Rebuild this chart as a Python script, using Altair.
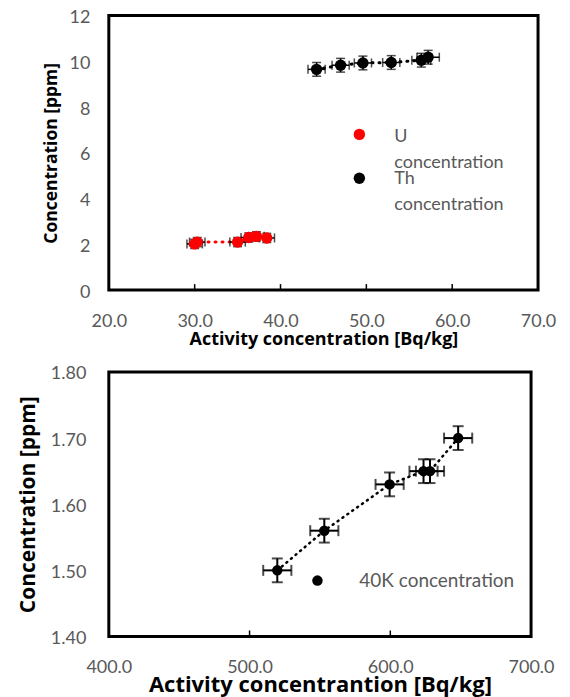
import altair as alt
import pandas as pd

# ---------------- data ----------------
u_x = [30.0, 30.3, 35.0, 36.3, 37.2, 38.4]
u_y = [2.02, 2.10, 2.10, 2.30, 2.35, 2.28]
u_xerr = [0.9, 0.9, 0.9, 0.9, 0.9, 0.9]
u_yerr = [0.2, 0.2, 0.2, 0.2, 0.2, 0.2]

th_x = [44.2, 47.0, 49.6, 52.9, 56.4, 57.2]
th_y = [9.65, 9.83, 9.93, 9.95, 10.05, 10.18]
th_xerr = [1.0, 1.0, 1.0, 1.0, 1.1, 1.3]
th_yerr = [0.3, 0.3, 0.3, 0.3, 0.3, 0.3]

k_x = [519.7, 553.1, 599.5, 623.6, 628.2, 648.2]
k_y = [1.50, 1.56, 1.63, 1.65, 1.65, 1.70]
k_xerr = [10.0, 10.0, 10.0, 10.0, 10.0, 10.0]
k_yerr = [0.018, 0.018, 0.018, 0.018, 0.018, 0.018]

series_names = ["U concentration", "Th concentration"]
series_colors = ["#ff0000", "#000000"]
k_name = "40K concentration"

top_x_ticks = [20, 30, 40, 50, 60, 70]
top_y_ticks = [0, 2, 4, 6, 8, 10, 12]
top_inner_ticks = [30, 40, 50, 60]
bot_x_ticks = [400, 500, 600, 700]
bot_y_ticks = [1.4, 1.5, 1.6, 1.7, 1.8]
bot_inner_ticks = [500, 600]

FONT = "Lato"
TFONT = "Open Sans"
LABEL_COLOR = "#595959"

# ---------------- tables ----------------
top_df = pd.concat([
    pd.DataFrame({"x": u_x, "y": u_y, "xerr": u_xerr, "yerr": u_yerr, "series": series_names[0]}),
    pd.DataFrame({"x": th_x, "y": th_y, "xerr": th_xerr, "yerr": th_yerr, "series": series_names[1]}),
], ignore_index=True)
k_df = pd.DataFrame({"x": k_x, "y": k_y, "xerr": k_xerr, "yerr": k_yerr, "series": k_name})
one = pd.DataFrame({"a": [0]})


def frame(w, h):
    return alt.Chart(one).mark_rect(filled=False, stroke="black", strokeWidth=3).encode(
        x=alt.value(0), x2=alt.value(w), y=alt.value(0), y2=alt.value(h))


# ---------------- top panel ----------------
TW, TH = 430, 275
tx = alt.X("x:Q", scale=alt.Scale(domain=[20, 70], nice=False, zero=False),
           axis=alt.Axis(values=top_x_ticks, format=".1f", title="Activity concentration [Bq/kg]",
                         grid=False, ticks=False, domain=False, labelFlush=False,
                         labelPadding=22, titlePadding=0,
                         labelFont=FONT, labelFontSize=18, labelColor=LABEL_COLOR,
                         titleFont=TFONT, titleFontSize=18, titleFontWeight="bold", titleColor="black"))
ty = alt.Y("y:Q", scale=alt.Scale(domain=[0, 12], nice=False),
           axis=alt.Axis(values=top_y_ticks, format="d", title="Concentration [ppm]",
                         grid=False, ticks=False, domain=False, labelFlush=False,
                         labelPadding=19, titlePadding=9, labelOffset=2,
                         labelFont=FONT, labelFontSize=18, labelColor=LABEL_COLOR,
                         titleFont=TFONT, titleFontSize=17.5, titleFontWeight="bold", titleColor="black"))
color = alt.Color("series:N", scale=alt.Scale(domain=series_names, range=series_colors), legend=None)

base_top = alt.Chart(top_df)
top_lines = base_top.mark_line(strokeDash=[1, 6], strokeWidth=3, strokeCap="round").encode(
    x=tx, y=ty, color=color, order="x:Q", detail="series:N")
top_xerr = base_top.mark_errorbar(ticks=True, color="black", thickness=1.5, size=9).encode(
    x=tx, xError="xerr:Q", y=ty, detail="series:N")
top_yerr = base_top.mark_errorbar(ticks=True, color="black", thickness=1.5, size=9).encode(
    y=ty, yError="yerr:Q", x=tx, detail="series:N")
top_pts = base_top.mark_circle(size=130, opacity=1).encode(x=tx, y=ty, color=color)
top_inner = alt.Chart(pd.DataFrame({"t": top_inner_ticks})).mark_rule(color="black", strokeWidth=1.5).encode(
    x=alt.X("t:Q", scale=alt.Scale(domain=[20, 70], nice=False, zero=False)),
    y=alt.value(TH), y2=alt.value(TH - 6))

leg_u_pt = alt.Chart(one).mark_circle(size=130, opacity=1, color=series_colors[0]).encode(
    x=alt.value(251), y=alt.value(119))
leg_th_pt = alt.Chart(one).mark_circle(size=130, opacity=1, color=series_colors[1]).encode(
    x=alt.value(251), y=alt.value(163))
leg_u_txt = alt.Chart(one).mark_text(align="left", baseline="middle", font=FONT, fontSize=18,
                                     color=LABEL_COLOR, lineBreak=" ", lineHeight=26, dy=-13).encode(
    x=alt.value(286), y=alt.value(134.5), text=alt.value(series_names[0]))
leg_th_txt = alt.Chart(one).mark_text(align="left", baseline="middle", font=FONT, fontSize=18,
                                      color=LABEL_COLOR, lineBreak=" ", lineHeight=26, dy=-13).encode(
    x=alt.value(286), y=alt.value(176.5), text=alt.value(series_names[1]))

top = alt.layer(top_inner, top_lines, top_xerr, top_yerr, top_pts,
                leg_u_pt, leg_th_pt, leg_u_txt, leg_th_txt, frame(TW, TH)).properties(width=TW, height=TH)

# ---------------- bottom panel ----------------
BW, BH = 423, 265
bx = alt.X("x:Q", scale=alt.Scale(domain=[400, 700], nice=False, zero=False),
           axis=alt.Axis(values=bot_x_ticks, format=".1f", title="Activity concentrantion  [Bq/kg]",
                         grid=False, ticks=False, domain=False, labelFlush=False,
                         labelPadding=22, titlePadding=-2,
                         labelFont=FONT, labelFontSize=18, labelColor=LABEL_COLOR,
                         titleFont=TFONT, titleFontSize=22, titleFontWeight="bold", titleColor="black"))
by = alt.Y("y:Q", scale=alt.Scale(domain=[1.4, 1.8], nice=False, zero=False),
           axis=alt.Axis(values=bot_y_ticks, format=".2f", title="Concentration  [ppm]",
                         grid=False, ticks=False, domain=False, labelFlush=False,
                         labelPadding=23, titlePadding=12, labelOffset=2,
                         labelFont=FONT, labelFontSize=18, labelColor=LABEL_COLOR,
                         titleFont=TFONT, titleFontSize=21, titleFontWeight="bold", titleColor="black"))

base_k = alt.Chart(k_df)
k_line = base_k.mark_line(color="black", strokeDash=[1, 5], strokeWidth=2.5, strokeCap="round").encode(
    x=bx, y=by, order="x:Q")
k_xerr_l = base_k.mark_errorbar(ticks=True, color="black", thickness=2, size=11).encode(
    x=bx, xError="xerr:Q", y=by)
k_yerr_l = base_k.mark_errorbar(ticks=True, color="black", thickness=2, size=11).encode(
    y=by, yError="yerr:Q", x=bx)
k_pts = base_k.mark_circle(size=110, opacity=1, color="black").encode(x=bx, y=by)
bot_inner = alt.Chart(pd.DataFrame({"t": bot_inner_ticks})).mark_rule(color="black", strokeWidth=1.5).encode(
    x=alt.X("t:Q", scale=alt.Scale(domain=[400, 700], nice=False, zero=False)),
    y=alt.value(BH), y2=alt.value(BH - 6))
leg_k_pt = alt.Chart(one).mark_circle(size=110, opacity=1, color="black").encode(
    x=alt.value(209), y=alt.value(209))
leg_k_txt = alt.Chart(one).mark_text(align="left", baseline="middle", font=FONT, fontSize=19,
                                     color=LABEL_COLOR).encode(
    x=alt.value(251), y=alt.value(209), text=alt.value(k_name))

bottom = alt.layer(bot_inner, k_line, k_xerr_l, k_yerr_l, k_pts, leg_k_pt, leg_k_txt,
                   frame(BW, BH)).properties(width=BW, height=BH)

chart = alt.vconcat(top, bottom, spacing=15).properties(
    padding={"left": 8, "top": -1, "right": 5, "bottom": 0}
).configure_view(stroke="transparent")

chart.save("out.html", embed_options={"renderer": "svg", "actions": False})
